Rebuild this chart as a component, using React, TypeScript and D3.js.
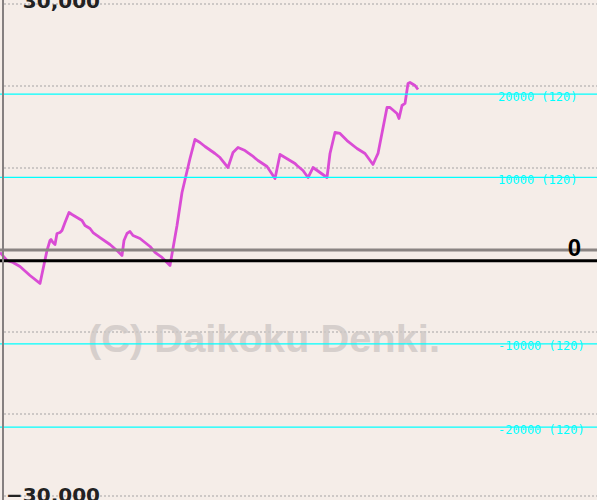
import React from 'react';
import * as d3 from 'd3';

// game count vs. coin difference
const gameCounts = [
  0, 70, 130, 200, 300, 400, 470, 500, 510, 530, 550, 570, 600, 620, 650, 690,
  720, 770, 820, 850, 900, 930, 1000, 1100, 1180, 1220, 1240, 1270, 1300, 1330,
  1400, 1500, 1550, 1620, 1700, 1770, 1820, 1900, 1950, 2000, 2050, 2150, 2200,
  2280, 2330, 2380, 2450, 2520, 2580, 2670, 2750, 2800, 2850, 2950, 2970, 3030,
  3080, 3130, 3200, 3270, 3300, 3350, 3400, 3470, 3570, 3650, 3730, 3770, 3780,
  3870, 3900, 3970, 3990, 4020, 4050, 4080, 4100, 4150, 4180,
];
const coinDiff = [
  -300, -1280, -1520, -2010, -3110, -4080, -60, 1160, 1280, 910, 670, 2010, 2130,
  2380, 3350, 4570, 4330, 3960, 3600, 2990, 2620, 2130, 1520, 670, -180, -670,
  1160, 2010, 2260, 1770, 1400, 430, -300, -910, -1890, 2990, 7010, 11160, 13480,
  13110, 12620, 11770, 11280, 10060, 11890, 12500, 12130, 11520, 10910, 10180,
  8720, 11650, 11280, 10550, 10300, 9700, 8840, 10060, 9450, 8840, 11770, 14330,
  14210, 13350, 12380, 11770, 10430, 11520, 11770, 17380, 17380, 16650, 16040,
  17620, 17870, 20300, 20430, 20060, 19570,
];

const gridValues = [30000, 20000, 10000, -10000, -20000, -30000];
const axisLabels = [30000, -30000];
const refValues = [20000, 10000, -10000, -20000];
const refSuffix = '(120)';
const refZero = -1300;
const refStep = 10150;
const watermark = '(C) Daikoku Denki.';

const W = 597;
const H = 500;

export default function App() {
  const x = d3.scaleLinear().domain([0, 5970]).range([0, W]);
  const y = d3.scaleLinear().domain([-30000, 30000]).range([496, 4]);
  const yRef = d3
    .scaleLinear()
    .domain([0, 10000])
    .range([y(refZero), y(refZero + refStep)]);

  const pts = gameCounts.map((g, i) => [g, coinDiff[i]] as [number, number]);
  const path = d3
    .line<[number, number]>()
    .x(d => x(d[0]))
    .y(d => y(d[1]))(pts);

  const fmt = d3.format(',');

  return (
    <svg
      width={W}
      height={H}
      style={{ position: 'absolute', left: 0, top: 0, display: 'block' }}
    >
      <rect width={W} height={H} fill="#f5ede8" />

      <text
        x={88}
        y={352}
        fontFamily="'Liberation Sans', Arial, sans-serif"
        fontWeight="bold"
        fontSize={39}
        fill="#d6cfcc"
        textLength={352}
        lengthAdjust="spacingAndGlyphs"
      >
        {watermark}
      </text>

      {gridValues.map(v => (
        <line
          key={v}
          x1={4}
          x2={W}
          y1={y(v)}
          y2={y(v)}
          stroke="#cdc8c6"
          strokeWidth={2}
          strokeDasharray="2 2"
        />
      ))}

      <path
        d={path || ''}
        fill="none"
        stroke="#da4cd5"
        strokeWidth={2.8}
        strokeLinejoin="round"
      />

      <line x1={0} x2={W} y1={y(0)} y2={y(0)} stroke="#8a8482" strokeWidth={3} />
      <line x1={0} x2={W} y1={yRef(0)} y2={yRef(0)} stroke="#000" strokeWidth={3} />

      {refValues.map(v => (
        <g key={v}>
          <line x1={0} x2={W} y1={yRef(v)} y2={yRef(v)} stroke="#00ffff" strokeWidth={1.2} />
          <text
            x={498}
            y={yRef(v) + 6.5}
            fontFamily="'DejaVu Sans Mono', monospace"
            fontSize={12}
            fill="#00ffff"
          >
            {`${v} ${refSuffix}`}
          </text>
        </g>
      ))}

      <text
        x={574.5}
        y={yRef(0) - 4.5}
        textAnchor="middle"
        fontFamily="'Liberation Sans', Arial, sans-serif"
        fontWeight="bold"
        fontSize={24}
        fill="#000"
      >
        0
      </text>

      <line x1={3} x2={3} y1={0} y2={H} stroke="#858080" strokeWidth={2} />

      {axisLabels.map(v => (
        <text
          key={v}
          x={100}
          y={y(v) + (v > 0 ? 4 : 6)}
          textAnchor="end"
          fontFamily="'DejaVu Sans', sans-serif"
          fontWeight="bold"
          fontSize={20}
          fill="#222"
        >
          {fmt(v)}
        </text>
      ))}
    </svg>
  );
}
